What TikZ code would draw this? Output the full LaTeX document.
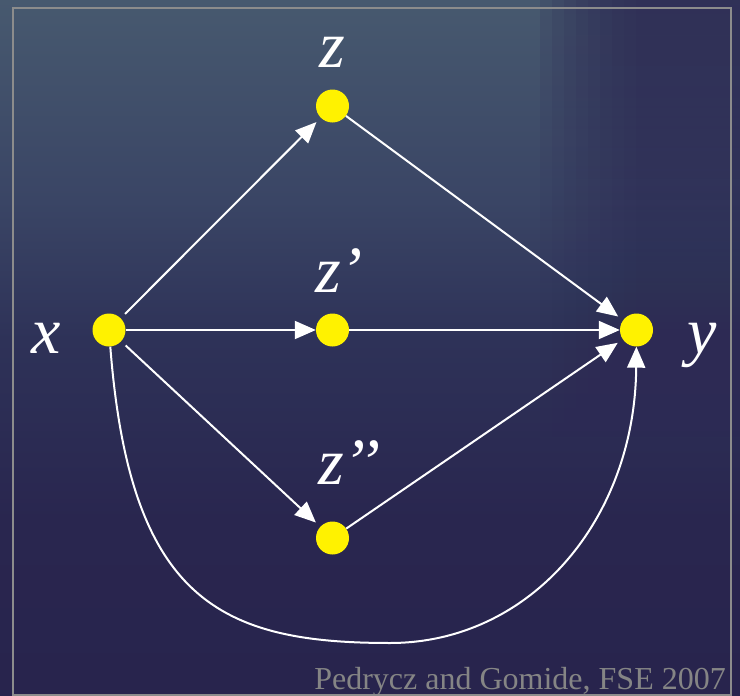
\documentclass[tikz,border=0pt]{standalone}
\usepackage{fontspec}
\setmainfont{Liberation Serif}
\newfontfamily\lblfont{Liberation Serif Italic}
\usetikzlibrary{arrows.meta,fadings}
\definecolor{bgA}{HTML}{28244D}
\definecolor{bgB}{HTML}{29264F}
\definecolor{bgC}{HTML}{2E3258}
\definecolor{bgD}{HTML}{3A4565}
\definecolor{bgE}{HTML}{47596F}
\definecolor{bgright}{HTML}{2D2A54}
\definecolor{framecol}{HTML}{8C8C8C}
\definecolor{creditcol}{HTML}{858585}
\pgfdeclareverticalshading{bgshade}{100bp}{color(0bp)=(bgA); color(25bp)=(bgA); color(37.6bp)=(bgB); color(50.6bp)=(bgC); color(60.6bp)=(bgD); color(75bp)=(bgE); color(100bp)=(bgE)}
\begin{document}
\begin{tikzpicture}[x=1pt,y=-1pt,
  dot/.style={circle,fill=yellow,minimum size=33pt,inner sep=0pt},
  lbl/.style={text=white,font=\fontsize{66}{70}\selectfont\lblfont,anchor=base,inner sep=0pt},
  edge/.style={draw=white,line width=2pt,-{Triangle[length=21pt,width=18pt]}},
  diag/.style={edge,shorten >=6pt,shorten <=6pt},
  diagin/.style={edge,shorten >=6pt}]
\useasboundingbox (0,0) rectangle (740,696);
\shade[shading=bgshade] (0,0) rectangle (740,696);
\foreach \i in {0,...,8}{
  \fill[bgright,opacity=0.17,path fading=south] (540+\i*12,0) rectangle (740,440);
}
% nodes
\node[dot] (x) at (109,330) {};
\node[dot] (z) at (332.5,106) {};
\node[dot] (z1) at (332.5,330) {};
\node[dot] (z2) at (332.5,538) {};
\node[dot] (y) at (636.5,330) {};
% labels
\node[lbl] (lx) at (46,353) {x};
\node[lbl] (ly) at (702,353) {y};
\node[lbl] (lz) at (332,67) {z};
\node[lbl,anchor=base west] (lz1) at (315,292) {z’};
\node[lbl,anchor=base west] (lz2) at (318,484) {z’’};
% edges
\draw[diag] (x) -- (z);
\draw[diagin] (z) -- (y);
\draw[edge] (x) -- (z1);
\draw[edge] (z1) -- (y);
\draw[diag] (x) -- (z2);
\draw[diagin] (z2) -- (y);
\coordinate (m) at (390,643);
\draw[edge] (x) .. controls (130,600) and (220,643) .. (m) .. controls (530,643) and (635,520) .. (y);
% credit and frame
\node[text=creditcol,font=\fontsize{32}{34}\selectfont,anchor=base east,inner sep=0pt] (cr) at (726,689) {Pedrycz and Gomide, FSE 2007};
\draw[framecol,line width=2pt] (13,8) rectangle (731,694.5);
\end{tikzpicture}
\end{document}
